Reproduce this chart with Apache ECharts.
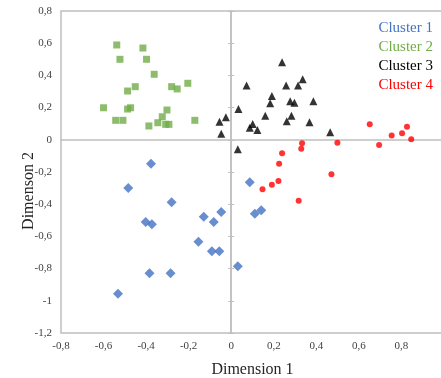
<!DOCTYPE html>
<html>
<head>
<meta charset="utf-8">
<script src="https://cdn.jsdelivr.net/npm/echarts@6/dist/echarts.min.js"></script>
<style>
  html, body { margin: 0; padding: 0; background: #fff; }
  #chart { width: 441px; height: 378px; }
</style>
</head>
<body>
<div id="chart"></div>
<script>
const clusterNames = ["Cluster 1", "Cluster 2", "Cluster 3", "Cluster 4"];

// [dimension 1, dimension 2]
const cluster1 = [
	[-0.377, -0.148], [-0.484, -0.299], [-0.280, -0.388], [-0.402, -0.511],
	[-0.373, -0.525], [-0.129, -0.478], [-0.082, -0.511], [-0.047, -0.448],
	[-0.154, -0.633], [-0.091, -0.693], [-0.056, -0.693], [0.031, -0.786],
	[-0.384, -0.829], [-0.285, -0.829], [-0.532, -0.956], [0.087, -0.264],
	[0.111, -0.459], [0.141, -0.438],
];
const cluster2 = [
	[-0.538, 0.589], [-0.415, 0.570], [-0.523, 0.500], [-0.398, 0.500],
	[-0.362, 0.407], [-0.204, 0.351], [-0.280, 0.330], [-0.254, 0.316],
	[-0.451, 0.330], [-0.487, 0.303], [-0.600, 0.199], [-0.487, 0.191],
	[-0.473, 0.199], [-0.302, 0.185], [-0.324, 0.143], [-0.543, 0.121],
	[-0.509, 0.121], [-0.171, 0.121], [-0.345, 0.106], [-0.308, 0.096],
	[-0.293, 0.096], [-0.387, 0.086],
];
const cluster3 = [
	[0.239, 0.481], [0.072, 0.338], [0.258, 0.338], [0.314, 0.338],
	[0.336, 0.376], [0.191, 0.272], [0.183, 0.227], [0.277, 0.239],
	[0.297, 0.230], [0.386, 0.239], [0.034, 0.191], [0.160, 0.150],
	[0.283, 0.150], [-0.025, 0.140], [-0.055, 0.112], [0.101, 0.098],
	[0.087, 0.075], [0.123, 0.061], [0.261, 0.115], [0.368, 0.109],
	[-0.047, 0.038], [0.465, 0.047], [0.031, -0.059],
];
const cluster4 = [
	[0.651, 0.096], [0.826, 0.081], [0.803, 0.040], [0.754, 0.026],
	[0.846, 0.003], [0.695, -0.032], [0.499, -0.018], [0.333, -0.022],
	[0.329, -0.055], [0.239, -0.084], [0.225, -0.148], [0.471, -0.214],
	[0.222, -0.256], [0.191, -0.279], [0.147, -0.307], [0.317, -0.378],
];

const xRange = { min: -0.8, max: 1.0, interval: 0.2 };
const yRange = { min: -1.2, max: 0.8, interval: 0.2 };

const colors = ["#4472c4", "#70ad47", "#000000", "#ff0000"];
const symbols = ["diamond", "rect", "triangle", "circle"];
const sizes = [10, 7, 8, 6];
const serif = "Liberation Serif";
const gridGray = "#bfbfbf";

function fmt(v) {
	return String(Number(v.toFixed(1))).replace(".", ",");
}

const chart = echarts.init(document.getElementById("chart"));

chart.setOption({
	animation: false,
	grid: {
		left: 61, top: 11, bottom: 45, right: -3,
		containLabel: false, outerBoundsMode: "none",
		show: true, borderColor: gridGray, borderWidth: 1.5,
	},
	legend: {
		orient: "vertical",
		right: 3, top: 16,
		icon: "none", itemWidth: 0, itemHeight: 15, itemGap: 4,
		selectedMode: false,
		textStyle: { fontFamily: serif, fontSize: 15 },
		data: clusterNames.map((n, i) => ({ name: n, textStyle: { color: colors[i] } })),
	},
	xAxis: [
		{
			type: "value", ...xRange,
			name: "Dimension 1", nameLocation: "middle", nameGap: 29, nameMoveOverlap: false,
			nameTextStyle: { fontFamily: serif, fontSize: 16, color: "#262626" },
			axisLine: { show: false, onZero: false },
			axisTick: { show: false },
			splitLine: { show: false },
			axisLabel: { formatter: fmt, fontFamily: serif, fontSize: 11, color: "#404040", margin: 8, hideOverlap: false },
		},
		{
			type: "value", ...xRange,
			axisLine: { show: true, onZero: true, lineStyle: { color: gridGray, width: 1.5 } },
			axisTick: { show: false },
			axisLabel: { show: false },
			splitLine: { show: false },
		},
	],
	yAxis: [
		{
			type: "value", ...yRange,
			name: "Dimenson 2", nameLocation: "middle", nameGap: 24, nameMoveOverlap: false,
			nameTextStyle: { fontFamily: serif, fontSize: 16, color: "#262626", padding: [0, 38, 0, 0] },
			axisLine: { show: false, onZero: false },
			axisTick: { show: false },
			splitLine: { show: false },
			axisLabel: { formatter: fmt, fontFamily: serif, fontSize: 11, color: "#404040", margin: 9 },
		},
		{
			type: "value", ...yRange, position: "left",
			axisLine: { show: true, onZero: true, lineStyle: { color: gridGray, width: 1.5 } },
			axisTick: { show: true, inside: false, length: 3, lineStyle: { color: gridGray, width: 1 } },
			axisLabel: { show: false },
			splitLine: { show: false },
		},
		{
			type: "value", ...yRange, position: "left",
			axisLine: { show: true, onZero: true, lineStyle: { color: gridGray, width: 1.5 } },
			axisTick: { show: true, inside: true, length: 3, lineStyle: { color: gridGray, width: 1 } },
			axisLabel: { show: false },
			splitLine: { show: false },
		},
	],
	series: [cluster1, cluster2, cluster3, cluster4].map((d, i) => ({
		name: clusterNames[i],
		type: "scatter",
		xAxisIndex: 0,
		yAxisIndex: 0,
		data: d,
		symbol: symbols[i],
		symbolSize: sizes[i],
		itemStyle: { color: colors[i] },
	})),
});
</script>
</body>
</html>
